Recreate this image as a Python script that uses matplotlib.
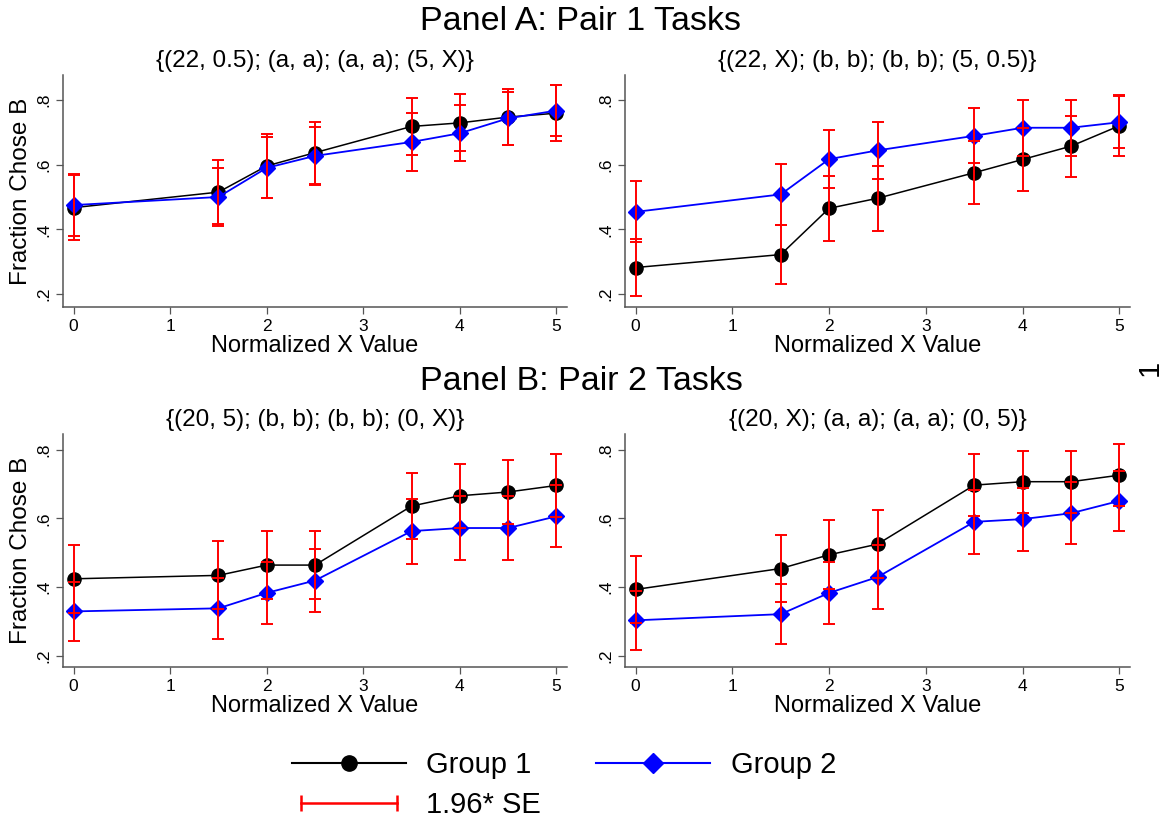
import matplotlib
matplotlib.use("Agg")
import matplotlib.pyplot as plt
from matplotlib.lines import Line2D
from matplotlib.legend_handler import HandlerLine2D
from matplotlib.ticker import FuncFormatter

plt.rcParams['font.family'] = ['Liberation Sans', 'DejaVu Sans']

x_vals = [0, 1.5, 2, 2.5, 3.5, 4, 4.5, 5]

# Panel A, left: {(22, 0.5); (a, a); (a, a); (5, X)}
a1_g1 = [0.467, 0.515, 0.596, 0.637, 0.718, 0.729, 0.747, 0.759]
a1_g1_ci = [0.100, 0.100, 0.098, 0.096, 0.089, 0.088, 0.087, 0.087]
a1_g2 = [0.475, 0.500, 0.590, 0.627, 0.670, 0.697, 0.743, 0.767]
a1_g2_ci = [0.095, 0.090, 0.094, 0.090, 0.089, 0.086, 0.082, 0.078]

# Panel A, right: {(22, X); (b, b); (b, b); (5, 0.5)}
a2_g1 = [0.282, 0.322, 0.465, 0.496, 0.575, 0.616, 0.657, 0.720]
a2_g1_ci = [0.089, 0.092, 0.100, 0.100, 0.097, 0.096, 0.094, 0.094]
a2_g2 = [0.454, 0.508, 0.617, 0.644, 0.689, 0.714, 0.714, 0.731]
a2_g2_ci = [0.094, 0.094, 0.090, 0.089, 0.085, 0.086, 0.086, 0.080]

# Panel B, left: {(20, 5); (b, b); (b, b); (0, X)}
b1_g1 = [0.424, 0.434, 0.464, 0.464, 0.636, 0.666, 0.677, 0.696]
b1_g1_ci = [0.099, 0.099, 0.100, 0.100, 0.096, 0.094, 0.093, 0.092]
b1_g2 = [0.329, 0.338, 0.383, 0.419, 0.563, 0.572, 0.572, 0.606]
b1_g2_ci = [0.087, 0.088, 0.091, 0.092, 0.095, 0.094, 0.094, 0.090]

# Panel B, right: {(20, X); (a, a); (a, a); (0, 5)}
b2_g1 = [0.393, 0.454, 0.494, 0.525, 0.697, 0.707, 0.707, 0.726]
b2_g1_ci = [0.097, 0.099, 0.101, 0.099, 0.091, 0.090, 0.090, 0.090]
b2_g2 = [0.303, 0.321, 0.383, 0.429, 0.590, 0.598, 0.615, 0.651]
b2_g2_ci = [0.086, 0.088, 0.091, 0.094, 0.093, 0.092, 0.090, 0.088]

subtitles = ["{(22, 0.5); (a, a); (a, a); (5, X)}",
             "{(22, X); (b, b); (b, b); (5, 0.5)}",
             "{(20, 5); (b, b); (b, b); (0, X)}",
             "{(20, X); (a, a); (a, a); (0, 5)}"]
panel_titles = ["Panel A: Pair 1 Tasks", "Panel B: Pair 2 Tasks"]
x_ticks = [0, 1, 2, 3, 4, 5]
y_ticks = [0.2, 0.4, 0.6, 0.8]

W, H = 1162, 822
fig = plt.figure(figsize=(W / 100, H / 100), dpi=100)


def px_axes(left, top, right, bottom):
    return fig.add_axes([left / W, 1 - bottom / H, (right - left) / W, (bottom - top) / H])


def draw_panel(ax, g1, g1_ci, g2, g2_ci, title, ylim, ylabel):
    ax.plot(x_vals, g1, color="black", lw=1.1, marker="o", ms=9.5, zorder=3)
    ax.plot(x_vals, g2, color="#0000ff", lw=1.3, marker="D", ms=8, zorder=3)
    ax.errorbar(x_vals, g1, yerr=g1_ci, fmt="none", ecolor="#ff0000",
                elinewidth=1.4, capsize=4.5, capthick=1.4, zorder=4)
    ax.errorbar(x_vals, g2, yerr=g2_ci, fmt="none", ecolor="#ff0000",
                elinewidth=1.4, capsize=4.5, capthick=1.4, zorder=4)
    ax.set_xlim(-0.11, 5.11)
    ax.set_ylim(*ylim)
    ax.set_xticks(x_ticks)
    ax.set_yticks(y_ticks)
    ax.yaxis.set_major_formatter(FuncFormatter(lambda v, p: ("%.1f" % v).lstrip("0")))
    ax.tick_params(axis="both", direction="out", length=5, width=0.9,
                   color="#555555", labelsize=12.5, pad=3.5)
    for lab in ax.get_yticklabels():
        lab.set_rotation(90)
        lab.set_va("center")
    ax.spines["top"].set_visible(False)
    ax.spines["right"].set_visible(False)
    for s in ("left", "bottom"):
        ax.spines[s].set_color("#555555")
        ax.spines[s].set_linewidth(1.1)
    ax.set_xlabel("Normalized X Value", fontsize=17, labelpad=0.5)
    if ylabel:
        ax.set_ylabel("Fraction Chose B", fontsize=17.5, labelpad=3)
    ax.set_title(title, fontsize=17.5, pad=6)


ax1 = px_axes(63, 75, 567, 307)
ax2 = px_axes(625, 75, 1130, 307)
ax3 = px_axes(63, 434, 567, 667)
ax4 = px_axes(625, 434, 1130, 667)

draw_panel(ax1, a1_g1, a1_g1_ci, a1_g2, a1_g2_ci, subtitles[0], (0.16, 0.877), True)
draw_panel(ax2, a2_g1, a2_g1_ci, a2_g2, a2_g2_ci, subtitles[1], (0.16, 0.877), False)
draw_panel(ax3, b1_g1, b1_g1_ci, b1_g2, b1_g2_ci, subtitles[2], (0.167, 0.846), True)
draw_panel(ax4, b2_g1, b2_g1_ci, b2_g2, b2_g2_ci, subtitles[3], (0.167, 0.846), False)

fig.text(0.5, 1 - 21 / H, panel_titles[0], fontsize=24.5, ha="center", va="center")
fig.text(0.5, 1 - 381 / H, panel_titles[1], fontsize=24.5, ha="center", va="center")

# page number on the right edge
fig.text(1150 / W, 1 - 368 / H, "1", fontsize=21, rotation=90, ha="center", va="center")

h1 = Line2D([], [], color="black", lw=1.5, marker="o", ms=11)
h2 = Line2D([], [], color="#0000ff", lw=1.5, marker="D", ms=10)
h3 = Line2D([], [], color="#ff0000", lw=1.8, marker="|", ms=12, mew=1.8)
fig.legend([h1, h3, h2], ["Group 1", "1.96* SE", "Group 2"], ncol=2,
           loc="center", bbox_to_anchor=(564 / W, 1 - 785 / H), frameon=False,
           fontsize=21, handlelength=3.9, handletextpad=0.7, columnspacing=1.9,
           labelspacing=0.4, handler_map={h3: HandlerLine2D(numpoints=2)})

fig.savefig("out.png", dpi=100)
